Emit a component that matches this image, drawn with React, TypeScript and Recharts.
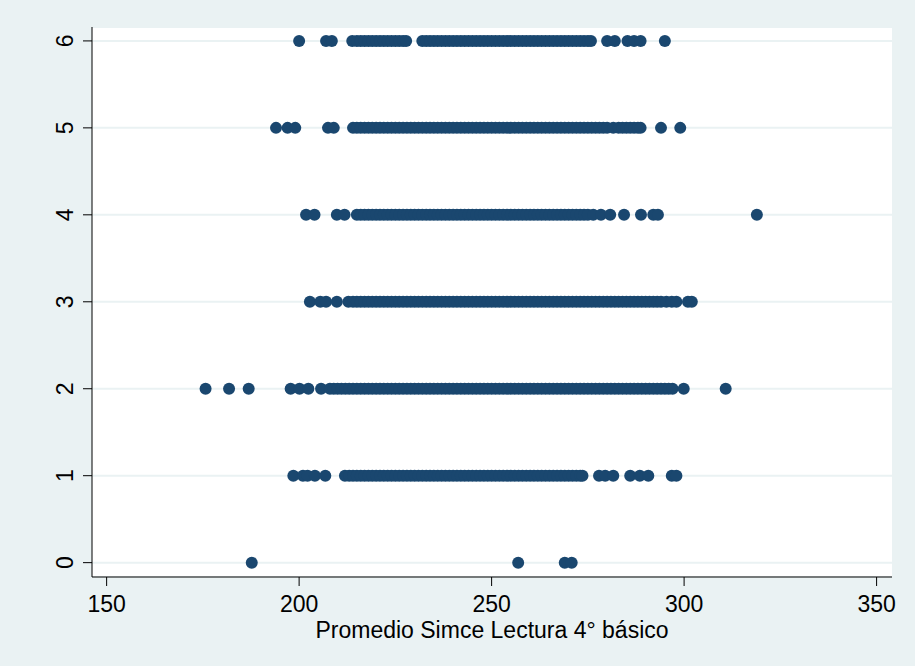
import { ScatterChart, Scatter, XAxis, YAxis, CartesianGrid } from "recharts";

const NAVY = "#1a476f";
const BG = "#eaf2f3";
const FONT = "'Liberation Sans', Arial, sans-serif";

// x ticks and y ticks
const xTicks = [150, 200, 250, 300, 350];
const yTicks = [0, 1, 2, 3, 4, 5, 6];

// Promedio Simce Lectura per row (y category)
const row0 = [187.7, 256.9, 269, 270.8];
const row1 = [
  198.5, 201, 202.2, 204.1, 206.8,
  211.9, 213, 214, 215, 216, 217, 218, 219, 220, 221, 222, 223, 224, 225, 226, 227,
  228, 229, 230, 231, 232, 233, 234, 235, 236, 237, 238, 239, 240, 241, 242, 243,
  244, 245, 246, 247, 248, 249, 250, 251, 252, 253, 254, 255, 256, 257, 258, 259,
  260, 261, 262, 263, 264, 265, 266, 267, 268, 269, 270, 271, 272, 273, 273.6,
  277.9, 279.5, 281.6, 286, 288.5, 290.7, 296.8, 298,
];
const row2 = [
  175.7, 181.8, 186.9, 197.8, 200.1, 202.4, 205.7,
  208, 209, 210, 211, 212, 213, 214, 215, 216, 217, 218, 219, 220, 221, 222, 223,
  224, 225, 226, 227, 228, 229, 230, 231, 232, 233, 234, 235, 236, 237, 238, 239,
  240, 241, 242, 243, 244, 245, 246, 247, 248, 249, 250, 251, 252, 253, 254, 255,
  256, 257, 258, 259, 260, 261, 262, 263, 264, 265, 266, 267, 268, 269, 270, 271,
  272, 273, 274, 275, 276, 277, 278, 279, 280, 281, 282, 283, 284, 285, 286, 287,
  288, 289, 290, 291, 292, 293, 294, 295, 296, 297,
  299.9, 310.8,
];
const row3 = [
  202.8, 205.5, 207, 209.8,
  212.8, 214, 215, 216, 217, 218, 219, 220, 221, 222, 223, 224, 225, 226, 227, 228,
  229, 230, 231, 232, 233, 234, 235, 236, 237, 238, 239, 240, 241, 242, 243, 244,
  245, 246, 247, 248, 249, 250, 251, 252, 253, 254, 255, 256, 257, 258, 259, 260,
  261, 262, 263, 264, 265, 266, 267, 268, 269, 270, 271, 272, 273, 274, 275, 276,
  277, 278, 279, 280, 281, 282, 283, 284, 285, 286, 287, 288, 289, 290, 291, 292,
  293, 294, 295.4, 296.8, 298, 301, 302,
];
const row4 = [
  201.8, 204, 209.8, 211.8,
  215, 216, 217, 218, 219, 220, 221, 222, 223, 224, 225, 226, 227, 228, 229, 230,
  231, 232, 233, 234, 235, 236, 237, 238, 239, 240, 241, 242, 243, 244, 245, 246,
  247, 248, 249, 250, 251, 252, 253, 254, 255, 256, 257, 258, 259, 260, 261, 262,
  263, 264, 265, 266, 267, 268, 269, 270, 271, 272, 273, 274, 275, 276.4,
  278.4, 280.8, 284.4, 288.8, 292, 293.2, 318.9,
];
const row5 = [
  194, 197, 199, 207.5, 209,
  214, 215, 216, 217, 218, 219, 220, 221, 222, 223, 224, 225, 226, 227, 228, 229,
  230, 231, 232, 233, 234, 235, 236, 237, 238, 239, 240, 241, 242, 243, 244, 245,
  246, 247, 248, 249, 250, 251, 252, 253, 254, 255, 256, 257, 258, 259, 260, 261,
  262, 263, 264, 265, 266, 267, 268, 269, 270, 271, 272, 273, 274, 275, 276, 277,
  278, 279, 280, 281.6, 283, 284, 285, 286, 287, 288, 288.7,
  294, 299,
];
const row6 = [
  200, 207, 208.5,
  213.8, 215, 216, 217, 218, 219, 220, 221, 222, 223, 224, 225, 226, 227, 227.8,
  232, 233, 234, 235, 236, 237, 238, 239, 240, 241, 242, 243, 244, 245, 246, 247,
  248, 249, 250, 251, 252, 253, 254, 255, 256, 257, 258, 259, 260, 261, 262, 263,
  264, 265, 266, 267, 268, 269, 270, 271, 272, 273, 274, 275, 275.8,
  280, 282, 285.3, 287, 288.7, 295,
];

const rows = [row0, row1, row2, row3, row4, row5, row6];
const points = rows.flatMap((row, y) => row.map((x) => ({ x, y })));

const YTick = (props: any) => {
  const { x, y, payload } = props;
  return (
    <text
      x={x}
      y={y}
      transform={`rotate(-90 ${x} ${y})`}
      textAnchor="middle"
      fontSize={23}
      fontFamily={FONT}
      fill="#000"
    >
      {payload.value}
    </text>
  );
};

export default function App() {
  return (
    <div style={{ width: 915, height: 666, background: BG }}>
      <style>{"body{margin:0}"}</style>
      <ScatterChart
        width={915}
        height={666}
        margin={{ top: 27, right: 23, bottom: 0, left: 0 }}
      >
        <CartesianGrid
          vertical={false}
          fill="#ffffff"
          fillOpacity={1}
          stroke={BG}
          strokeWidth={2}
        />
        <XAxis
          type="number"
          dataKey="x"
          domain={[146.2, 354]}
          ticks={xTicks}
          allowDataOverflow
          height={89}
          tickSize={9}
          tickMargin={10}
          axisLine={{ stroke: "#000" }}
          tickLine={{ stroke: "#000" }}
          tick={{ fontSize: 23, fill: "#000", fontFamily: FONT }}
          label={{
            value: "Promedio Simce Lectura 4° básico",
            position: "insideBottom",
            offset: 28,
            fontSize: 23,
            fill: "#000",
            fontFamily: FONT,
          }}
        />
        <YAxis
          type="number"
          dataKey="y"
          domain={[-0.165, 6.16]}
          ticks={yTicks}
          allowDataOverflow
          width={92}
          tickSize={9}
          tickMargin={10}
          axisLine={{ stroke: "#000" }}
          tickLine={{ stroke: "#000" }}
          tick={YTick}
        />
        <Scatter
          data={points}
          isAnimationActive={false}
          shape={(p: any) => <circle cx={p.cx} cy={p.cy} r={6} fill={NAVY} />}
        />
      </ScatterChart>
    </div>
  );
}
